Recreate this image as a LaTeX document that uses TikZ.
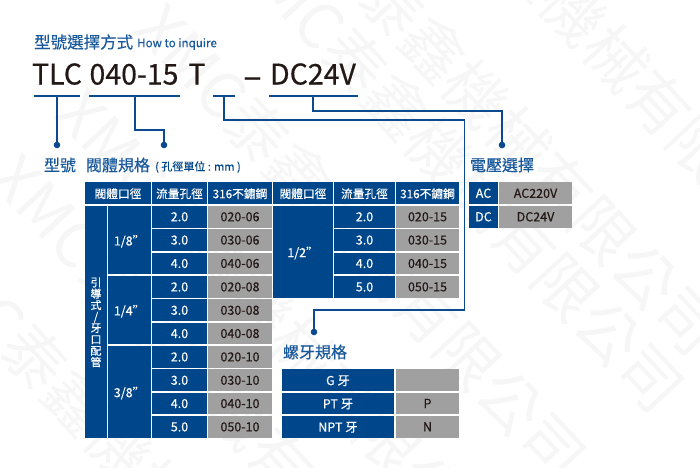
\documentclass[tikz,border=0pt]{standalone}
\usepackage{fontspec}
\usepackage{xcolor}
\usepackage{tikz}
\setmainfont{Noto Sans CJK TC}[FakeBold=0.25]
\newfontfamily\plainfont{Noto Sans CJK TC}
\newfontfamily\heavyfont{Noto Sans CJK TC}[FakeBold=0.6]
\definecolor{valveblue}{RGB}{0,70,138}
\definecolor{linkblue}{RGB}{12,74,143}
\definecolor{titleblue}{RGB}{24,88,155}
\definecolor{cellgray}{RGB}{160,160,160}
\definecolor{inkdark}{RGB}{35,24,21}
\definecolor{markgray}{RGB}{246,246,246}
\newcommand{\fs}[1]{\fontsize{#1}{#1}\selectfont}

\begin{document}
\begin{tikzpicture}[x=1pt, y=-1pt]
    % Define node styles
    \tikzstyle{cell} = [rectangle, inner sep=0pt, outer sep=0pt, font=\fs{12.5}, text depth=0pt]
    \tikzstyle{bluecell} = [cell, fill=valveblue, text=white]
    \tikzstyle{graycell} = [cell, fill=cellgray, text=inkdark]
    \tikzstyle{headcell} = [bluecell, minimum height=22.2pt, font=\fs{11.7}]
    \tikzstyle{flowcell} = [bluecell, minimum width=55pt, minimum height=21.8pt]
    \tikzstyle{codecell} = [graycell, minimum width=64pt, minimum height=21.8pt]
    \tikzstyle{heading} = [inner sep=0pt, text=titleblue, font=\fs{16}]
    \tikzstyle{bigtext} = [inner sep=0pt, anchor=base, text=inkdark, font=\heavyfont\fs{28.5}]
    \tikzstyle{stamp} = [inner sep=0pt, anchor=west, rotate=-47, text=markgray, font=\plainfont\fs{62}]
    \tikzstyle{link} = [linkblue, line width=1.1pt]
    \tikzstyle{dot} = [circle, fill=linkblue, inner sep=0pt, minimum size=6.6pt]

    \useasboundingbox (0,0) rectangle (700,467);

    % Watermark
    \node[stamp] (stamp1) at (383,-193) {XMC泰鑫機械有限公司};
    \node[stamp] (stamp2) at (285,-111) {XMC泰鑫機械有限公司};
    \node[stamp] (stamp3) at (248,-54) {XMC泰鑫機械有限公司};
    \node[stamp] (stamp4) at (150,15) {XMC泰鑫機械有限公司};
    \node[stamp] (stamp5) at (70,100) {XMC泰鑫機械有限公司};
    \node[stamp] (stamp6) at (5,165) {XMC泰鑫機械有限公司};
    \node[stamp] (stamp7) at (-72,242) {XMC泰鑫機械有限公司};

    % Title and model code
    \node[heading, anchor=west, font=\fs{16.5}] (title) at (34,42) {型號選擇方式};
    \node[heading, anchor=west, font=\fs{11.6}] (titleen) at (137,44) {How to inquire};
    \node[bigtext] (tlc) at (57,84.5) {TLC};
    \node[bigtext] (size) at (134,84.5) {040-15};
    \node[bigtext] (thread) at (197,84.5) {T};
    \node[bigtext, font=\heavyfont\fs{34}] (dash) at (252.5,88) {–};
    \node[bigtext] (volt) at (313,84.5) {DC24V};

    % Underlines below the code
    \coordinate (tlcl) at (34,96);
    \coordinate (tlcr) at (80,96);
    \coordinate (tlcm) at (57,96);
    \coordinate (sizel) at (89,96);
    \coordinate (sizer) at (180,96);
    \coordinate (sizem) at (135,96);
    \coordinate (threadl) at (213,96);
    \coordinate (threadr) at (235,96);
    \coordinate (threadm) at (224,96);
    \coordinate (voltl) at (269,96);
    \coordinate (voltr) at (358,96);
    \coordinate (voltm) at (313,96);
    \draw[link] (tlcl) -- (tlcr);
    \draw[link] (sizel) -- (sizer);
    \draw[link] (threadl) -- (threadr);
    \draw[link] (voltl) -- (voltr);

    % Connectors to the sections
    \node[dot] (dottlc) at (57,145) {};
    \node[dot] (dotsize) at (164,145) {};
    \node[dot] (dotthread) at (314,332) {};
    \node[dot] (dotvolt) at (502,145) {};
    \draw[link] (tlcm) -- (dottlc);
    \draw[link] (sizem) |- (164,130) -- (dotsize);
    \draw[link] (threadm) |- (464.5,120) |- (314,310) -- (dotthread);
    \draw[link] (voltm) |- (502,111) -- (dotvolt);

    % Section headings
    \node[heading] (headtype) at (60,165) {型號};
    \node[heading] (headvalve) at (118,165) {閥體規格};
    \node[heading, anchor=west, text=valveblue, font=\fs{11}] (headunit) at (155,167) {( 孔徑單位 : mm )};
    \node[heading] (headscrew) at (315,352) {螺牙規格};
    \node[heading] (headvolt) at (502,165) {電壓選擇};

    % Left table
    \node[headcell, minimum width=66pt] (hbody1) at (118,193.2) {閥體口徑\hspace{5pt}};
    \node[headcell, minimum width=55pt] (hflow1) at (179.5,193.2) {流量孔徑};
    \node[headcell, minimum width=64pt] (hcode1) at (240,193.2) {316不鏽鋼};
    \node[bluecell, minimum width=21.5pt, minimum height=231.7pt, align=center, font=\fontsize{11}{11.4}\selectfont] (pipe) at (96,321.8) {引\\導\\式\\/\\牙\\口\\配\\管};
    \node[bluecell, minimum width=43pt, minimum height=68.3pt] (b18) at (129.5,240.2) {1/8"};
    \node[bluecell, minimum width=43pt, minimum height=68.3pt] (b14) at (129.5,310.1) {1/4"};
    \node[bluecell, minimum width=43pt, minimum height=91.7pt] (b38) at (129.5,391.9) {3/8"};

    \node[flowcell] (f1) at (179.5,216.7) {2.0};
    \node[flowcell] (f2) at (179.5,240) {3.0};
    \node[flowcell] (f3) at (179.5,263.4) {4.0};
    \node[flowcell] (f4) at (179.5,286.8) {2.0};
    \node[flowcell] (f5) at (179.5,310.2) {3.0};
    \node[flowcell] (f6) at (179.5,333.5) {4.0};
    \node[flowcell] (f7) at (179.5,356.8) {2.0};
    \node[flowcell] (f8) at (179.5,380.2) {3.0};
    \node[flowcell] (f9) at (179.5,403.5) {4.0};
    \node[flowcell] (f10) at (179.5,426.8) {5.0};

    \node[codecell] (c1) at (240,216.7) {020-06};
    \node[codecell] (c2) at (240,240) {030-06};
    \node[codecell] (c3) at (240,263.4) {040-06};
    \node[codecell] (c4) at (240,286.8) {020-08};
    \node[codecell] (c5) at (240,310.2) {030-08};
    \node[codecell] (c6) at (240,333.5) {040-08};
    \node[codecell] (c7) at (240,356.8) {020-10};
    \node[codecell] (c8) at (240,380.2) {030-10};
    \node[codecell] (c9) at (240,403.5) {040-10};
    \node[codecell] (c10) at (240,426.8) {050-10};

    % Right table
    \node[headcell, minimum width=60pt] (hbody2) at (303,193.2) {閥體口徑};
    \node[headcell, minimum width=61pt] (hflow2) at (364.5,193.2) {流量孔徑};
    \node[headcell, minimum width=63pt] (hcode2) at (427.5,193.2) {316不鏽鋼};
    \node[bluecell, minimum width=60pt, minimum height=91.7pt] (b12) at (303,251.9) {1/2"};

    \node[flowcell, minimum width=61pt] (g1) at (364.5,216.7) {2.0};
    \node[flowcell, minimum width=61pt] (g2) at (364.5,240) {3.0};
    \node[flowcell, minimum width=61pt] (g3) at (364.5,263.4) {4.0};
    \node[flowcell, minimum width=61pt] (g4) at (364.5,286.8) {5.0};

    \node[codecell, minimum width=63pt] (d1) at (427.5,216.7) {020-15};
    \node[codecell, minimum width=63pt] (d2) at (427.5,240) {030-15};
    \node[codecell, minimum width=63pt] (d3) at (427.5,263.4) {040-15};
    \node[codecell, minimum width=63pt] (d4) at (427.5,286.8) {050-15};

    % Thread table
    \node[flowcell, minimum width=112pt] (tg) at (338,380.2) {G 牙};
    \node[flowcell, minimum width=112pt] (tpt) at (338,403.5) {PT 牙};
    \node[flowcell, minimum width=112pt] (tnpt) at (338,426.8) {NPT 牙};
    \node[codecell, minimum width=63pt] (vg) at (427.5,380.2) {};
    \node[codecell, minimum width=63pt] (vpt) at (427.5,403.5) {P};
    \node[codecell, minimum width=63pt] (vnpt) at (427.5,426.8) {N};

    % Voltage table
    \node[flowcell, minimum width=29pt] (ac) at (483.5,193.2) {AC};
    \node[flowcell, minimum width=29pt] (dc) at (483.5,216.7) {DC};
    \node[codecell, minimum width=73pt] (ac220) at (535.5,193.2) {AC220V};
    \node[codecell, minimum width=73pt] (dc24) at (535.5,216.7) {DC24V};
\end{tikzpicture}
\end{document}
